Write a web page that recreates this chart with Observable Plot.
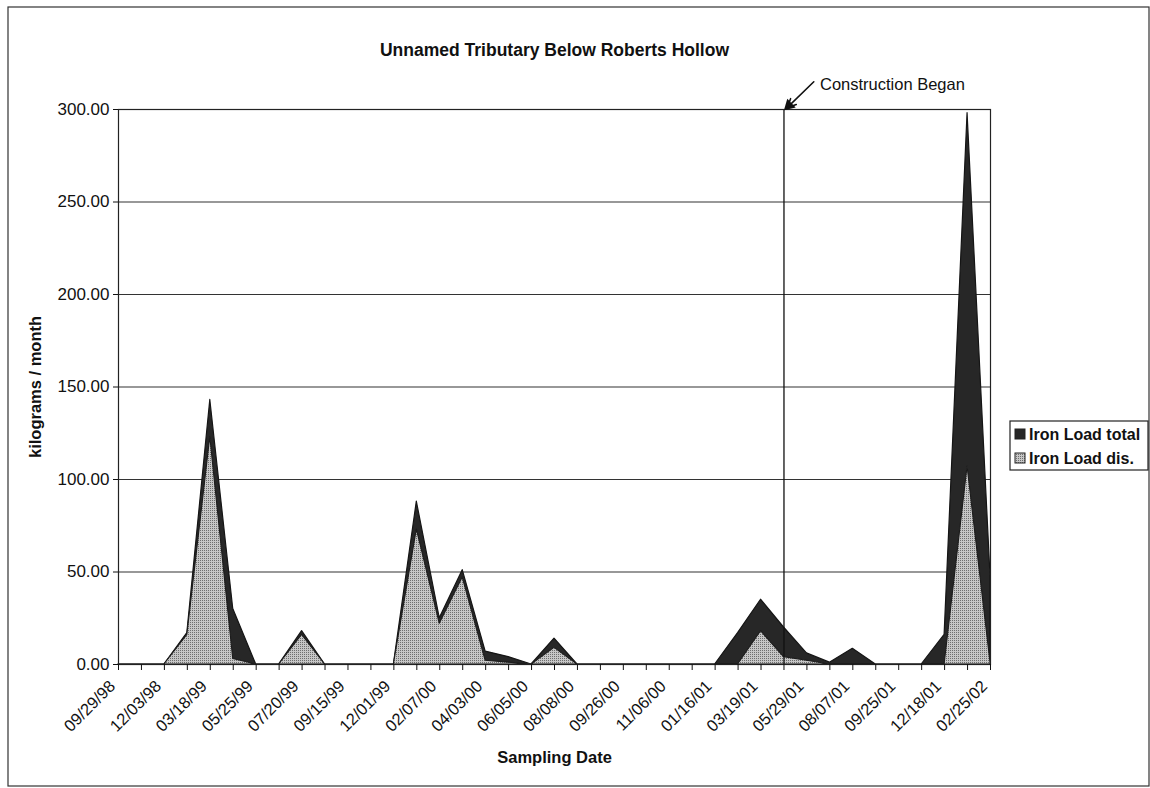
<!DOCTYPE html>
<html>
<head>
<meta charset="utf-8">
<script src="https://cdn.jsdelivr.net/npm/d3@7"></script>
<script src="https://cdn.jsdelivr.net/npm/@observablehq/plot@0.6"></script>
<style>
  html, body { margin: 0; padding: 0; background: #fff; }
  #chart { width: 1150px; height: 788px; }
</style>
</head>
<body>
<div id="chart"></div>
<script>
// Sampling dates shown on the axis (every second sample is labelled)
const dateLabels = [
  "09/29/98", "12/03/98", "03/18/99", "05/25/99", "07/20/99",
  "09/15/99", "12/01/99", "02/07/00", "04/03/00", "06/05/00",
  "08/08/00", "09/26/00", "11/06/00", "01/16/01", "03/19/01",
  "05/29/01", "08/07/01", "09/25/01", "12/18/01", "02/25/02"
];

// Iron load, kilograms / month, one value per sample (39 samples)
const ironTotal = [
  0, 0, 0, 17, 143, 30, 0, 0, 18, 0,
  0, 0, 0, 88, 25, 51, 7, 4, 0, 14,
  0, 0, 0, 0, 0, 0, 0, 17, 35, 20,
  6, 1, 8.5, 0, 0, 0, 16, 298, 48
];
const ironDissolved = [
  0, 0, 0, 16, 123, 3, 0, 0, 16, 0,
  0, 0, 0, 73, 22, 47, 2, 1, 0, 9,
  0, 0, 0, 0, 0, 0, 0, 0, 18, 4,
  2, 0, 0, 0, 0, 0, 0, 107, 1
];

const seriesNames = ["Iron Load total", "Iron Load dis."];
const yTicks = [0, 50, 100, 150, 200, 250, 300];
const constructionIndex = 29;   // first sample after construction began
const titleText = "Unnamed Tributary Below Roberts Hollow";

const samples = ironTotal.map((total, i) => ({i, total, dis: ironDissolved[i]}));
const sampleIndex = d3.range(ironTotal.length);

const FONT = "'Liberation Sans', Arial, Helvetica, sans-serif";
const DARK = "#272727";
const STIPPLE = "url(#dis-stipple)";

// Stipple pattern used for the dissolved-load area and its legend swatch
function stippleDefs() {
  const defs = d3.create("svg:defs");
  const p = defs.append("pattern")
    .attr("id", "dis-stipple")
    .attr("patternUnits", "userSpaceOnUse")
    .attr("width", 2).attr("height", 2);
  p.append("rect").attr("width", 2).attr("height", 2).attr("fill", "#c6c6c6");
  p.append("rect").attr("width", 1).attr("height", 1).attr("fill", "#6e6e6e");
  return defs.node();
}

// Boxed legend to the right of the plot area
function legendBox(index, scales, values, dims) {
  const g = d3.create("svg:g")
    .attr("font-family", FONT)
    .attr("font-size", 16)
    .attr("font-weight", "bold")
    .attr("text-anchor", "start");
  const x0 = dims.width - dims.marginRight + 20;
  const y0 = 421;
  g.append("rect")
    .attr("x", x0).attr("y", y0).attr("width", 138).attr("height", 49)
    .attr("fill", "white").attr("stroke", "#222").attr("stroke-width", 1.2);
  const fills = [DARK, STIPPLE];
  seriesNames.forEach((name, k) => {
    const cy = y0 + 13 + k * 24;
    g.append("rect")
      .attr("x", x0 + 5).attr("y", cy - 5).attr("width", 10).attr("height", 10)
      .attr("fill", fills[k]).attr("stroke", "#222").attr("stroke-width", 1);
    g.append("text")
      .attr("x", x0 + 19).attr("y", cy).attr("dy", "0.36em")
      .attr("text-anchor", "start")
      .attr("fill", "#111")
      .text(name);
  });
  return g.node();
}

// Outer border of the whole chart
function outerBorder(index, scales, values, dims) {
  return d3.create("svg:rect")
    .attr("x", 8).attr("y", 7)
    .attr("width", dims.width - 9).attr("height", dims.height - 9)
    .attr("fill", "none").attr("stroke", "#333").attr("stroke-width", 1.2)
    .node();
}

const chart = Plot.plot({
  width: 1150,
  height: 788,
  marginLeft: 118,
  marginRight: 160,
  marginTop: 109,
  marginBottom: 124,
  style: {fontFamily: FONT, fontSize: "16px", color: "#111", background: "white"},
  x: {type: "linear", domain: [0, ironTotal.length - 1]},
  y: {domain: [0, 300]},
  marks: [
    stippleDefs,
    outerBorder,
    Plot.ruleY(yTicks, {stroke: "#333", strokeWidth: 1.1}),
    Plot.areaY(samples, {x: "i", y: "total", fill: DARK, stroke: "#151515", strokeWidth: 1.2}),
    Plot.areaY(samples, {x: "i", y: "dis", fill: STIPPLE, stroke: "#1c1c1c", strokeWidth: 1.1}),
    Plot.ruleX([constructionIndex], {stroke: "#111", strokeWidth: 1.3}),
    Plot.frame({stroke: "#222", strokeWidth: 1.2}),
    Plot.axisY({
      ticks: yTicks, tickFormat: d => d.toFixed(2),
      tickSize: 5, tickPadding: 4, label: null, fontSize: 17
    }),
    // a tick at every sample, a label at every second one
    Plot.axisX({
      ticks: sampleIndex, tickSize: 6, tickFormat: () => "", label: null
    }),
    Plot.axisX({
      ticks: sampleIndex.filter(i => i % 2 === 0),
      tickFormat: i => dateLabels[i / 2],
      tickRotate: -45, tickSize: 0, tickPadding: 19, dx: -6, label: null, fontSize: 16.5
    }),
    // construction annotation
    Plot.arrow([constructionIndex], {
      x1: d => d + 1.3, y1: 315, x2: d => d + 0.14, y2: 301,
      stroke: "#111", strokeWidth: 1.6, headLength: 9, headAngle: 50
    }),
    Plot.dot([constructionIndex], {
      x: d => d, y: 300, dx: 5, dy: -4, symbol: "triangle", r: 4.5,
      rotate: 226, fill: "#111", stroke: "none"
    }),
    Plot.text(["Construction Began"], {
      x: () => constructionIndex, y: () => 300, dx: 36, dy: -25,
      textAnchor: "start", fontSize: 16.5, fill: "#111"
    }),
    // titles
    Plot.text([titleText], {
      frameAnchor: "top", dy: -66, fontSize: 17.5, fontWeight: "bold", fill: "#111"
    }),
    Plot.text(["Sampling Date"], {
      frameAnchor: "bottom", dy: 98, fontSize: 16.5, fontWeight: "bold", fill: "#111"
    }),
    Plot.text(["kilograms / month"], {
      frameAnchor: "left", dx: -83, rotate: -90, textAnchor: "middle",
      fontSize: 16.5, fontWeight: "bold", fill: "#111"
    }),
    legendBox
  ]
});

document.getElementById("chart").appendChild(chart);
</script>
</body>
</html>
